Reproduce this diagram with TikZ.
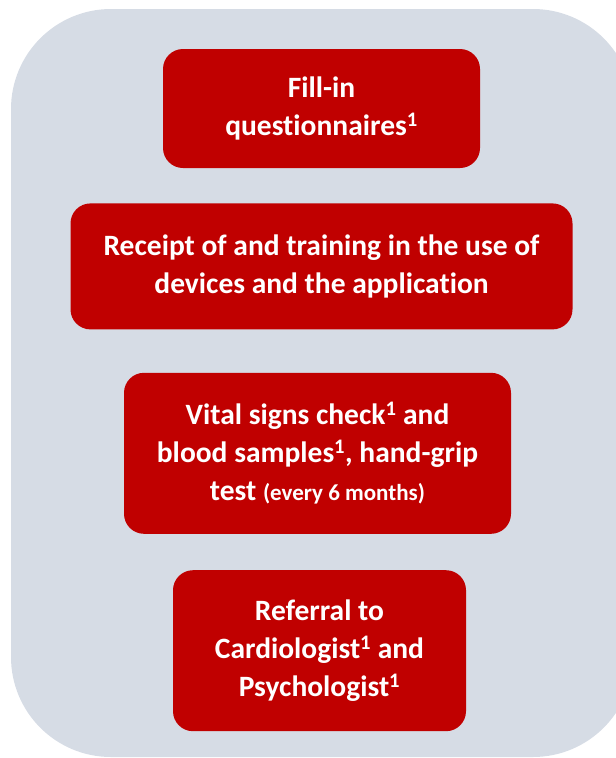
\documentclass[tikz,border=0pt]{standalone}
\usepackage{fontspec}
\setmainfont[Ligatures=NoCommon]{Carlito}
\usepackage{tikz}
\usetikzlibrary{positioning}
\definecolor{dfred}{RGB}{192,0,0}
\definecolor{dfgrey}{RGB}{214,220,229}
\tikzstyle{taskbox} = [rectangle, rounded corners=20pt, fill=dfred, text=white, align=center, inner sep=0pt, font=\fontsize{29.5}{38}\selectfont\bfseries]

\begin{document}
\begin{tikzpicture}[x=1pt, y=-1pt]
\useasboundingbox (0,0) rectangle (616,758);
% Panel behind the steps
\fill[dfgrey, rounded corners=100pt] (11,9) rectangle (633,757);
% Steps
\node[taskbox, minimum width=317pt, minimum height=119pt] (fillin) at (321.5,108.5) {Fill-in\\questionnaires\textsuperscript{1}};
\node[taskbox, minimum width=502pt, minimum height=126pt, below=35pt of fillin] (devices) {Receipt of and training in the use of\\devices and the application};
\node[taskbox, minimum width=387pt, minimum height=161pt, below=43pt of devices, xshift=-4pt] (vitals) {Vital signs check\textsuperscript{1} and\\blood samples\textsuperscript{1}, hand-grip\\test {\fontsize{23}{38}\selectfont(every 6 months)}};
\node[taskbox, minimum width=293pt, minimum height=161pt, below=36pt of vitals, xshift=2pt] (referral) {Referral to\\Cardiologist\textsuperscript{1} and\\Psychologist\textsuperscript{1}};
\end{tikzpicture}
\end{document}
